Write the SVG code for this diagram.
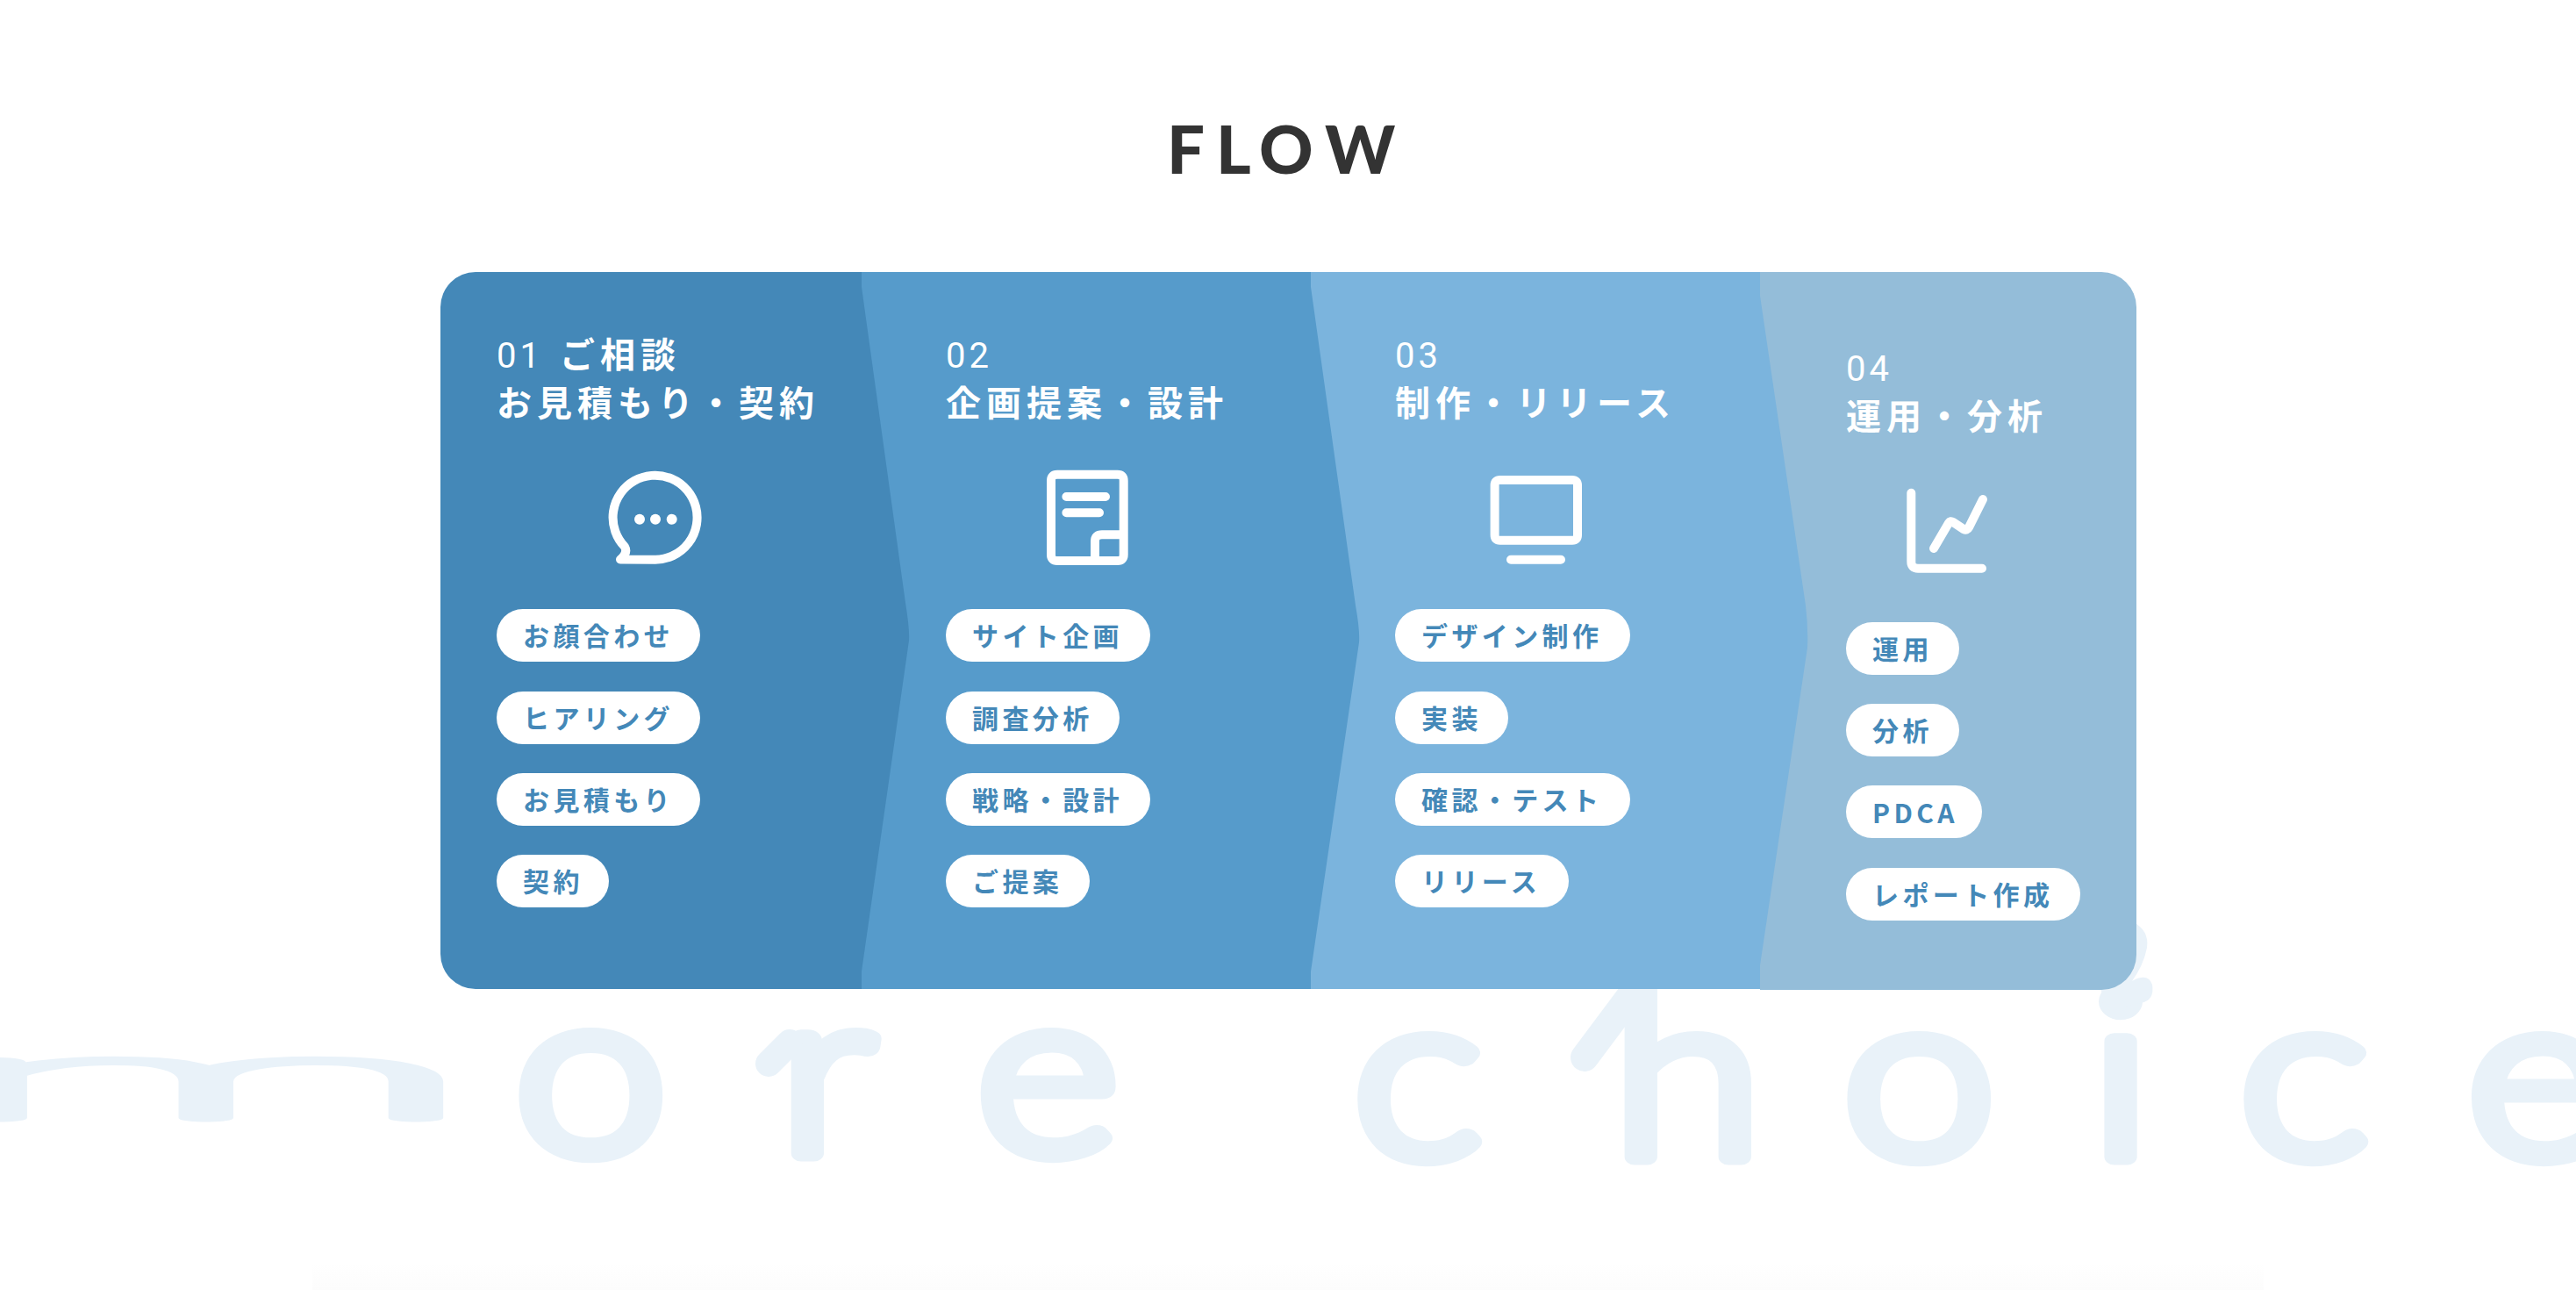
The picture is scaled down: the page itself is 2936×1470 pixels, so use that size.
<svg xmlns="http://www.w3.org/2000/svg" width="2936" height="1470" viewBox="0 0 2936 1470">
<style>
.bg{fill:#e9f2f9;stroke:#e9f2f9;stroke-width:19;stroke-linejoin:round;stroke-linecap:round;font-family:Lato,sans-serif;font-weight:300;font-size:264px}
.m{font-weight:100;stroke-width:38;vector-effect:non-scaling-stroke}
.acc{fill:none;stroke:#e9f2f9;stroke-linecap:round}
.title{fill:#333;font-family:Lato,"Liberation Sans",sans-serif;font-weight:900;font-size:76px}
.h{fill:#fff;font-family:"Noto Sans CJK JP",sans-serif;font-weight:700;font-size:40px;letter-spacing:6px}
.n{font-family:Roboto,sans-serif;font-weight:400;letter-spacing:4px}
.pill{fill:#fff}
.p{fill:#4488b8;font-family:"Noto Sans CJK JP",sans-serif;font-weight:700;font-size:30px;letter-spacing:4.4px}
.i{fill:none;stroke:#fff;stroke-width:10;stroke-linecap:round;stroke-linejoin:round}
</style>
<defs><linearGradient id="fade" x1="0" y1="0" x2="0" y2="1"><stop offset="0" stop-color="#fff"/><stop offset="1" stop-color="#fcfcfc"/></linearGradient></defs>
<rect width="2936" height="1470" fill="#fff"/>
<rect x="356" y="1440" width="2224" height="30" fill="url(#fade)"/>
<g id="background-word">
<text class="bg m" transform="translate(-78 1274) scale(3 .5)">m</text>
<text class="bg" transform="scale(1.18 1)" y="1314" x="497 752 943">ore</text>
<text class="bg" transform="scale(1.18 1)" y="1318" x="1307 1557 1780 2019 2163 2383">choice</text>
<path class="acc" stroke-width="32" d="M1877 1110L1806 1205"/>
<path class="acc" stroke-width="30" d="M900 1188L876 1212"/>
<path fill="#e9f2f9" d="M2430 1050Q2450 1060 2447 1080Q2443 1100 2430 1118Q2448 1108 2453 1122Q2456 1140 2440 1143Q2410 1148 2398 1155L2394 1120Z"/>
</g>
<text id="title" class="title" y="198" x="1330 1386 1435 1510">FLOW</text>
<g id="step-04">
<path fill="#94bdd9" d="M2006 310H2395A40 40 0 0 1 2435 350V1088A40 40 0 0 1 2395 1128H2006Z"/>
<text class="h" y="434" x="2104"><tspan class="n">04</tspan></text>
<text class="h" y="489" x="2104">運用・分析</text>
<path class="i" d="M2178.3 561.7V640Q2178.3 647.7 2186 647.7H2259M2204 625L2221 596Q2223 593 2226 595L2238 603Q2242 605 2244 601L2260 569"/>
<rect class="pill" x="2104" y="709" width="129" height="60" rx="30"/><text class="p" x="2134" y="751">運用</text>
<rect class="pill" x="2104" y="802" width="129" height="60" rx="30"/><text class="p" x="2134" y="844">分析</text>
<rect class="pill" x="2104" y="895" width="155" height="60" rx="30"/><text class="p" x="2134" y="938">PDCA</text>
<rect class="pill" x="2104" y="989" width="267" height="60" rx="30"/><text class="p" x="2134" y="1031">レポート作成</text>
</g>
<g id="step-03">
<path fill="#7bb4dd" d="M1494 310H2006V337L2058 690Q2061 715 2060 738L2006 1100V1127H1494Z"/>
<text class="h" y="419" x="1590"><tspan class="n">03</tspan></text>
<text class="h" y="474" x="1590">制作・リリース</text>
<path class="i" d="M1709.6 547H1792Q1798 547 1798 553V609.7Q1798 615.7 1792 615.7H1709.6Q1703.6 615.7 1703.6 609.7V553Q1703.6 547 1709.6 547ZM1722 637.7H1779"/>
<rect class="pill" x="1590" y="694" width="268" height="60" rx="30"/><text class="p" x="1620" y="736">デザイン制作</text>
<rect class="pill" x="1590" y="788" width="129" height="60" rx="30"/><text class="p" x="1620" y="830">実装</text>
<rect class="pill" x="1590" y="881" width="268" height="60" rx="30"/><text class="p" x="1620" y="923">確認・テスト</text>
<rect class="pill" x="1590" y="974" width="198" height="60" rx="30"/><text class="p" x="1620" y="1016">リリース</text>
</g>
<g id="step-02">
<path fill="#569bcb" d="M982 310H1494V327L1545 690Q1550 718 1549 732L1494 1107V1127H982Z"/>
<text class="h" y="419" x="1078"><tspan class="n">02</tspan></text>
<text class="h" y="474" x="1078">企画提案・設計</text>
<path class="i" d="M1205 540.7H1273.7Q1280.7 540.7 1280.7 547.7V632Q1280.7 639 1273.7 639H1205Q1198 639 1198 632V547.7Q1198 540.7 1205 540.7ZM1215.4 566H1260M1215.4 584.3H1253M1248 639V617Q1248 609.3 1256 609.3H1280.7"/>
<rect class="pill" x="1078" y="694" width="233" height="60" rx="30"/><text class="p" x="1108" y="736">サイト企画</text>
<rect class="pill" x="1078" y="788" width="198" height="60" rx="30"/><text class="p" x="1108" y="830">調査分析</text>
<rect class="pill" x="1078" y="881" width="233" height="60" rx="30"/><text class="p" x="1108" y="923">戦略・設計</text>
<rect class="pill" x="1078" y="974" width="164" height="60" rx="30"/><text class="p" x="1108" y="1016">ご提案</text>
</g>
<g id="step-01">
<path fill="#4488b8" d="M542 310H982V327L1032 687Q1037 718 1036 730L982 1107V1127H542A40 40 0 0 1 502 1087V350A40 40 0 0 1 542 310Z"/>
<text class="h" y="419" x="566"><tspan class="n">01</tspan><tspan x="638">ご相談</tspan></text>
<text class="h" y="474" x="566">お見積もり・契約</text>
<path class="i" d="M707 637.5L747 637.7A48 48 0 1 0 712 623Q716 630 707 637.5Z"/>
<circle cx="729" cy="591.7" r="6" fill="#fff"/><circle cx="747" cy="591.7" r="6" fill="#fff"/><circle cx="765.7" cy="591.7" r="6" fill="#fff"/>
<rect class="pill" x="566" y="694" width="232" height="60" rx="30"/><text class="p" x="596" y="736">お顔合わせ</text>
<rect class="pill" x="566" y="788" width="232" height="60" rx="30"/><text class="p" x="596" y="830">ヒアリング</text>
<rect class="pill" x="566" y="881" width="232" height="60" rx="30"/><text class="p" x="596" y="923">お見積もり</text>
<rect class="pill" x="566" y="974" width="128" height="60" rx="30"/><text class="p" x="596" y="1016">契約</text>
</g>
</svg>
